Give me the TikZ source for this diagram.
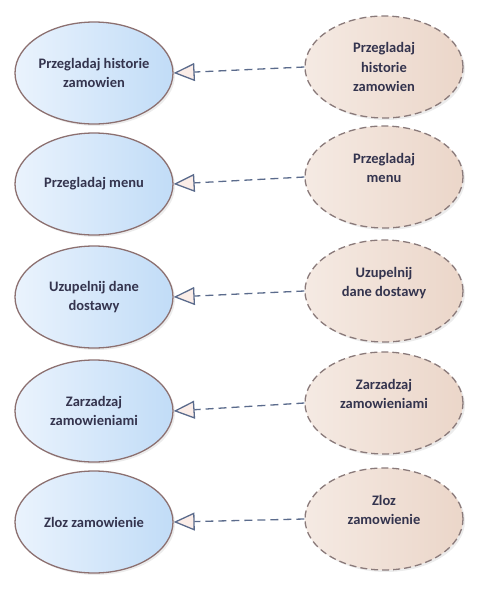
\documentclass[tikz,border=0pt]{standalone}
\usepackage{fontspec}
\setmainfont{Carlito}
\usepackage{tikz}
\usetikzlibrary{shapes.geometric}
\usetikzlibrary{arrows.meta}
\usetikzlibrary{shadows}

\definecolor{ucleft}{HTML}{EAF3FD}
\definecolor{ucright}{HTML}{C1DCF7}
\definecolor{ucline}{HTML}{8C7070}
\definecolor{absleft}{HTML}{F5EAE3}
\definecolor{absright}{HTML}{EBD6C9}
\definecolor{absline}{HTML}{8A7A7A}
\definecolor{labeltext}{HTML}{34344E}
\definecolor{genline}{HTML}{5B6B8C}
\definecolor{tipfill}{HTML}{FBEDE8}

\tikzset{
	usecase/.style={ellipse, draw=ucline, line width=1.3pt, shading=axis, left color=ucleft, right color=ucright, shading angle=90,
		minimum width=158pt, minimum height=102pt, inner sep=0pt, align=center, text=labeltext, font=\bfseries\fontsize{14.5}{19.5}\selectfont,
		drop shadow={opacity=0.15, shadow xshift=2pt, shadow yshift=-2pt}},
	abstractcase/.style={usecase, draw=absline, dash pattern=on 7pt off 4pt, left color=absleft, right color=absright},
	shiftup/.style={text depth=18pt},
	generalize/.style={draw=genline, line width=1.3pt, dash pattern=on 8pt off 5pt, -{Triangle[length=21pt, width=18pt, fill=tipfill, line width=1.3pt]}}
}

\begin{document}
\begin{tikzpicture}[x=1pt, y=-1pt]
		\useasboundingbox (0,0) rectangle (477,590);

		% concrete use cases
		\node[usecase] (historia) at (94,73) {Przegladaj historie\\zamowien};
		\node[usecase] (menu) at (94,184) {Przegladaj menu};
		\node[usecase] (dostawa) at (94,297) {Uzupelnij dane\\dostawy};
		\node[usecase] (zarzadzaj) at (94,411) {Zarzadzaj\\zamowieniami};
		\node[usecase] (zamowienie) at (94,522) {Zloz zamowienie};

		% abstract use cases
		\node[abstractcase] (historiaA) at (384,67) {Przegladaj\\historie\\zamowien};
		\node[abstractcase, shiftup] (menuA) at (384,177) {Przegladaj\\menu};
		\node[abstractcase, shiftup] (dostawaA) at (384,291) {Uzupelnij\\dane dostawy};
		\node[abstractcase, shiftup] (zarzadzajA) at (384,403) {Zarzadzaj\\zamowieniami};
		\node[abstractcase, shiftup] (zamowienieA) at (384,519) {Zloz\\zamowienie};

		\draw[generalize] (historiaA.west) -- (historia.east);
		\draw[generalize] (menuA.west) -- (menu.east);
		\draw[generalize] (dostawaA.west) -- (dostawa.east);
		\draw[generalize] (zarzadzajA.west) -- (zarzadzaj.east);
		\draw[generalize] (zamowienieA.west) -- (zamowienie.east);

	\end{tikzpicture}
\end{document}
